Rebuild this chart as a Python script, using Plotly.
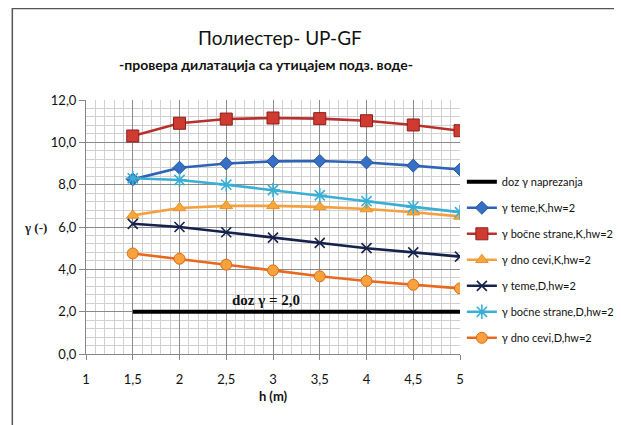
import plotly.graph_objects as go

# h (m)
h = [1.5, 2, 2.5, 3, 3.5, 4, 4.5, 5]

doz = [2.0, 2.0, 2.0, 2.0, 2.0, 2.0, 2.0, 2.0]
teme_k = [8.25, 8.8, 9.0, 9.1, 9.12, 9.05, 8.9, 8.72]
bocne_k = [10.3, 10.9, 11.1, 11.15, 11.12, 11.02, 10.82, 10.55]
dno_k = [6.55, 6.9, 7.0, 7.0, 6.95, 6.85, 6.7, 6.5]
teme_d = [6.15, 6.0, 5.75, 5.5, 5.25, 5.0, 4.8, 4.6]
bocne_d = [8.3, 8.22, 8.0, 7.75, 7.5, 7.22, 6.95, 6.7]
dno_d = [4.75, 4.5, 4.22, 3.95, 3.67, 3.45, 3.27, 3.1]

x_ticks = [1, 1.5, 2, 2.5, 3, 3.5, 4, 4.5, 5]
x_tick_labels = ["1", "1,5", "2", "2,5", "3", "3,5", "4", "4,5", "5"]
y_ticks = [0, 2, 4, 6, 8, 10, 12]
y_tick_labels = ["0,0", "2,0", "4,0", "6,0", "8,0", "10,0", "12,0"]

SANS = "Lato, Open Sans, sans-serif"
SERIF = "Liberation Serif, DejaVu Serif, serif"

fig = go.Figure()


def add(name, y, color, symbol=None, msize=9, mcolor=None, mline=None, mlw=1, width=2.6):
    kw = dict(mode="lines")
    if symbol:
        kw["mode"] = "lines+markers"
        kw["marker"] = dict(symbol=symbol, size=msize, color=mcolor or color,
                            line=dict(color=mline or color, width=mlw))
    fig.add_trace(go.Scatter(x=h, y=y, name=name, legendgroup=name,
                             line=dict(color=color, width=width), **kw))


add("doz γ naprezanja", doz, "#000000", width=4)
add("γ teme,K,hw=2", teme_k, "#2f63b6", "diamond", 10, "#3570c4", "#24539c")
add("γ bočne strane,K,hw=2", bocne_k, "#b8302e", "square", 12, "#cf3b30", "#8e1f1c")
add("γ dno cevi,K,hw=2", dno_k, "#f4a040", "triangle-up", 11, "#f6a83c", "#e89028")
add("γ teme,D,hw=2", teme_d, "#16224c", "x-thin-open", 10, mline="#16224c", mlw=1.6)
add("γ bočne strane,D,hw=2", bocne_d, "#3aaed4", "asterisk-open", 12, mline="#3aaed4", mlw=1.6)
add("γ dno cevi,D,hw=2", dno_d, "#e8681e", "circle", 11, "#f7a23c", "#e06a1a")

fig.add_annotation(x=2.92, y=2.55, text="<b>doz γ = 2,0</b>", showarrow=False,
                   xanchor="center", yanchor="middle",
                   font=dict(family=SERIF, size=15, color="#111"))
fig.add_annotation(xref="paper", yref="paper", x=-0.1, y=0.5, text="<b>γ (-)</b>",
                   xanchor="right", yanchor="middle", showarrow=False,
                   font=dict(family=SERIF, size=13, color="#222"))
fig.add_annotation(xref="paper", yref="paper", x=0.519, y=1.245,
                   text="Полиестер- UP-GF", showarrow=False,
                   xanchor="center", yanchor="middle",
                   font=dict(family=SANS, size=19, color="#111"))
fig.add_annotation(xref="paper", yref="paper", x=0.481, y=1.14,
                   text="<b>-провера дилатација са утицајем подз. воде-</b>", showarrow=False,
                   xanchor="center", yanchor="middle",
                   font=dict(family=SANS, size=14, color="#111"))

# outer frame of the chart
fig.add_shape(type="rect", xref="paper", yref="paper", x0=-0.197, y0=-0.5, x1=1.6, y1=1.36,
              line=dict(color="#555", width=1.5), layer="below")

# page body has an 8px margin, so the figure is 8px smaller than the window
fig.update_layout(
    width=614, height=417,
    margin=dict(l=78, r=162, t=92, b=71, autoexpand=False),
    paper_bgcolor="white", plot_bgcolor="white",
    font=dict(family=SANS, size=12, color="#111"),
    showlegend=True,
    legend=dict(x=1.005, y=0.735, xanchor="left", yanchor="top",
                font=dict(family=SANS, size=11), tracegroupgap=7,
                bgcolor="rgba(0,0,0,0)", itemwidth=30),
)
fig.update_xaxes(
    range=[1, 5], tickmode="array", tickvals=x_ticks, ticktext=x_tick_labels,
    showgrid=True, gridcolor="#8a8a8a", gridwidth=1,
    minor=dict(tick0=1, dtick=0.1, showgrid=True, gridcolor="#d0d0d0", gridwidth=1),
    showline=True, linecolor="#888", ticks="outside", ticklen=5, tickcolor="#888",
    ticklabelstandoff=8, zeroline=False,
    title=dict(text="<b>h (m)</b>", font=dict(family=SANS, size=13), standoff=6),
    tickfont=dict(family=SANS, size=13),
)
fig.update_yaxes(
    range=[0, 12], tickmode="array", tickvals=y_ticks, ticktext=y_tick_labels,
    showgrid=True, gridcolor="#8a8a8a", gridwidth=1,
    minor=dict(tick0=0, dtick=0.4, showgrid=True, gridcolor="#d0d0d0", gridwidth=1),
    showline=True, linecolor="#888", ticks="outside", ticklen=6, tickcolor="#888",
    zeroline=False, tickfont=dict(family=SANS, size=13),
)

fig.write_html("out.html")
